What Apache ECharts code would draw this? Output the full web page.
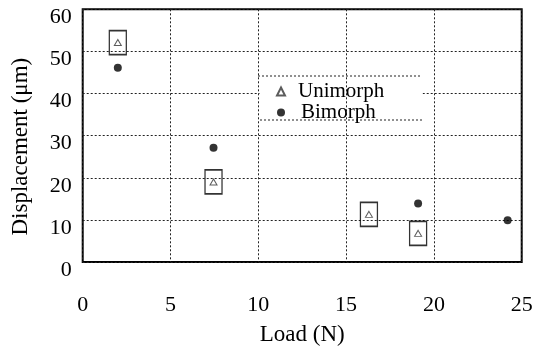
<!DOCTYPE html>
<html>
<head>
<meta charset="utf-8">
<script src="https://cdn.jsdelivr.net/npm/echarts@6/dist/echarts.min.js"></script>
<style>
html,body{margin:0;padding:0;background:#fff;}
#chart{width:536px;height:351px;}
</style>
</head>
<body>
<div id="chart"></div>
<script>
// Data
var unimorphLoad = [2.0, 7.45, 16.3, 19.1];
var unimorphDisp = [52.1, 19.0, 11.3, 6.8];
var bimorphLoad = [2.0, 7.45, 19.1, 24.2];
var bimorphDisp = [46.1, 27.1, 13.9, 9.9];
var xTicks = [0, 5, 10, 15, 20, 25];
var yTicks = [0, 10, 20, 30, 40, 50, 60];
var seriesNames = ['Unimorph', 'Bimorph'];
var xTitle = 'Load (N)';
var yTitle = 'Displacement (\u03bcm)';

function pairs(xs, ys) { return xs.map(function (x, i) { return [x, ys[i]]; }); }

var FONT = "'Liberation Serif', 'Times New Roman', serif";
var chart = echarts.init(document.getElementById('chart'), null, { renderer: 'canvas' });

var option = {
  backgroundColor: '#ffffff',
  animation: false,
  textStyle: { fontFamily: FONT, color: '#000' },
  grid: {
    left: 82.7, right: 14.3, top: 9.3, bottom: 85.7,
    show: true, borderColor: '#000', borderWidth: 2, backgroundColor: 'transparent'
  },
  xAxis: {
    type: 'value', min: xTicks[0], max: xTicks[xTicks.length - 1], interval: 5,
    z: 3,
    name: xTitle, nameLocation: 'middle', nameGap: 61,
    nameTextStyle: { fontFamily: FONT, fontSize: 23, color: '#000' },
    axisLine: { show: false },
    axisTick: { show: false },
    axisLabel: { margin: 32, fontFamily: FONT, fontSize: 22, color: '#000' },
    splitLine: { show: true, lineStyle: { color: '#222', width: 1, type: [2, 2] } }
  },
  yAxis: {
    type: 'value', min: yTicks[0], max: yTicks[yTicks.length - 1], interval: 10,
    z: 0,
    name: yTitle, nameLocation: 'middle', nameGap: 50,
    nameTextStyle: { fontFamily: FONT, fontSize: 23, color: '#000', padding: [0, 0, 0, -22] },
    axisLine: { show: false },
    axisTick: { show: false },
    axisLabel: { margin: 11, fontFamily: FONT, fontSize: 22, color: '#000',
      verticalAlign: 'top', lineHeight: 16 },
    splitLine: { show: true, lineStyle: { color: '#222', width: 1, type: [2, 2] } }
  },
  legend: {
    orient: 'vertical', left: 276, top: 81, padding: 0,
    itemWidth: 8, itemHeight: 8, itemGap: 0, itemTextGap: 10,
    textStyle: { fontFamily: FONT, fontSize: 21, color: '#000', padding: [0, 0, 0, 8] },
    data: [
      { name: seriesNames[0], icon: 'triangle' },
      { name: seriesNames[1], icon: 'circle', textStyle: { padding: [0, 0, 0, 11] } }
    ]
  },
  graphic: [
    { type: 'rect', z: 1, silent: true,
      shape: { x: 259.5, y: 76, width: 163, height: 44 },
      style: { fill: '#fff' } },
    { type: 'line', z: 1, silent: true,
      shape: { x1: 258, y1: 76, x2: 422, y2: 76 },
      style: { stroke: '#222', lineWidth: 1, lineDash: [2, 2] } },
    { type: 'line', z: 1, silent: true,
      shape: { x1: 260, y1: 120, x2: 422, y2: 120 },
      style: { stroke: '#222', lineWidth: 1, lineDash: [2, 2] } }
  ],
  series: [
    {
      name: seriesNames[0] + ' box', type: 'scatter', z: 5,
      data: pairs(unimorphLoad, unimorphDisp),
      symbol: 'rect', symbolSize: [17, 24],
      itemStyle: { color: 'rgba(0,0,0,0)', borderColor: '#000', borderWidth: 1.5 },
      emphasis: { disabled: true }, silent: true
    },
    {
      name: seriesNames[0], type: 'scatter', z: 6,
      data: pairs(unimorphLoad, unimorphDisp),
      symbol: 'triangle', symbolSize: [7, 6],
      itemStyle: { color: '#fff', borderColor: '#333', borderWidth: 1 },
      emphasis: { disabled: true }
    },
    {
      name: seriesNames[1], type: 'scatter', z: 6,
      data: pairs(bimorphLoad, bimorphDisp),
      symbol: 'circle', symbolSize: 8,
      itemStyle: { color: '#000' },
      emphasis: { disabled: true }
    }
  ]
};
chart.setOption(option);
</script>
</body>
</html>
